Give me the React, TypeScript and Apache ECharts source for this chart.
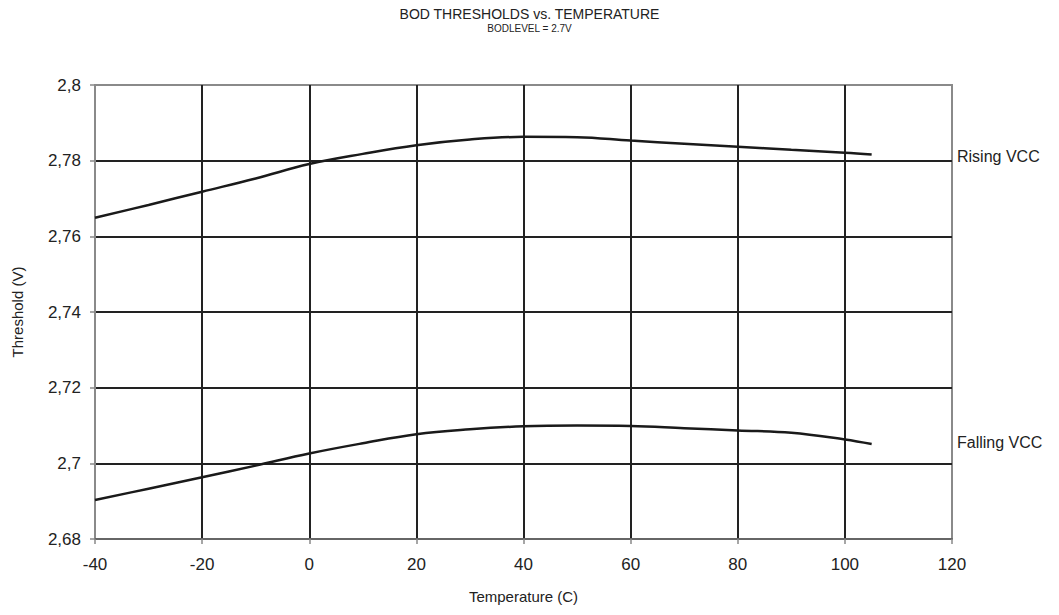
import React, { useEffect, useRef } from "react";
import * as echarts from "echarts";

const temps = [-40, -30, -20, -10, 0, 10, 20, 30, 40, 50, 60, 70, 80, 90, 100, 105];
const risingVcc = [2.7649, 2.7683, 2.7718, 2.7753, 2.7791, 2.7818, 2.7841, 2.7856, 2.7863, 2.7862, 2.7853, 2.7845, 2.7837, 2.7829, 2.7821, 2.7816];
const fallingVcc = [2.6903, 2.6933, 2.6963, 2.6994, 2.7026, 2.7053, 2.7077, 2.709, 2.7098, 2.71, 2.7099, 2.7093, 2.7087, 2.7081, 2.7063, 2.7051];
const seriesNames = ["Rising VCC", "Falling VCC"];

const FONT = "'Liberation Sans', Arial, sans-serif";

export default function App() {
  const ref = useRef<HTMLDivElement>(null);
  useEffect(() => {
    if (!ref.current) return;
    const chart = echarts.init(ref.current, null, { renderer: "svg" });
    const fmt = (v: number) => String(parseFloat(v.toFixed(3))).replace(".", ",");
    chart.setOption({
      animation: false,
      backgroundColor: "#fff",
      textStyle: { fontFamily: FONT },
      title: {
        text: "BOD THRESHOLDS vs. TEMPERATURE",
        subtext: "BODLEVEL = 2.7V",
        left: "center",
        top: 2,
        itemGap: 2,
        textStyle: { fontFamily: FONT, fontSize: 14, fontWeight: "normal", color: "#222" },
        subtextStyle: { fontFamily: FONT, fontSize: 10, color: "#222" },
      },
      grid: {
        left: 95,
        right: 107,
        top: 85,
        bottom: 76,
        show: true,
        borderColor: "#8a8a8a",
        borderWidth: 2,
        containLabel: false,
      },
      xAxis: {
        type: "value",
        min: -40,
        max: 120,
        interval: 20,
        name: "Temperature (C)",
        nameLocation: "middle",
        nameGap: 50,
        nameTextStyle: { fontFamily: FONT, fontSize: 15, color: "#222" },
        axisLine: { show: true, onZero: false, lineStyle: { color: "#666", width: 2 } },
        axisTick: { show: true, length: 5, lineStyle: { color: "#888", width: 1.5 } },
        axisLabel: { fontFamily: FONT, fontSize: 17, color: "#222", margin: 17 },
        splitLine: { show: true, showMinLine: false, showMaxLine: false, lineStyle: { color: "#222", width: 2 } },
      },
      yAxis: {
        type: "value",
        min: 2.68,
        max: 2.8,
        interval: 0.02,
        name: "Threshold (V)",
        nameLocation: "middle",
        nameGap: 70,
        nameRotate: 90,
        nameTextStyle: { fontFamily: FONT, fontSize: 15, color: "#222" },
        axisLine: { show: true, onZero: false, lineStyle: { color: "#8a8a8a", width: 2 } },
        axisTick: { show: true, length: 5, lineStyle: { color: "#888", width: 1.5 } },
        axisLabel: { fontFamily: FONT, fontSize: 17, color: "#222", margin: 14, formatter: fmt },
        splitLine: { show: true, showMinLine: false, showMaxLine: false, lineStyle: { color: "#222", width: 2 } },
      },
      series: [
        {
          name: seriesNames[0],
          type: "line",
          data: temps.map((t, i) => [t, risingVcc[i]]),
          smooth: 0.4,
          showSymbol: false,
          lineStyle: { color: "#1a1a1a", width: 2.5 },
        },
        {
          name: seriesNames[1],
          type: "line",
          data: temps.map((t, i) => [t, fallingVcc[i]]),
          smooth: 0.4,
          showSymbol: false,
          lineStyle: { color: "#1a1a1a", width: 2.5 },
        },
      ],
      graphic: [
        {
          type: "text",
          left: 957,
          top: 148,
          style: { text: seriesNames[0], fontFamily: FONT, fontSize: 16, fill: "#222" },
        },
        {
          type: "text",
          left: 957,
          top: 434,
          style: { text: seriesNames[1], fontFamily: FONT, fontSize: 16, fill: "#222" },
        },
      ],
    });
    return () => chart.dispose();
  }, []);
  return (
    <div
      ref={ref}
      style={{ position: "fixed", left: 0, top: 0, width: 1059, height: 615 }}
    />
  );
}
